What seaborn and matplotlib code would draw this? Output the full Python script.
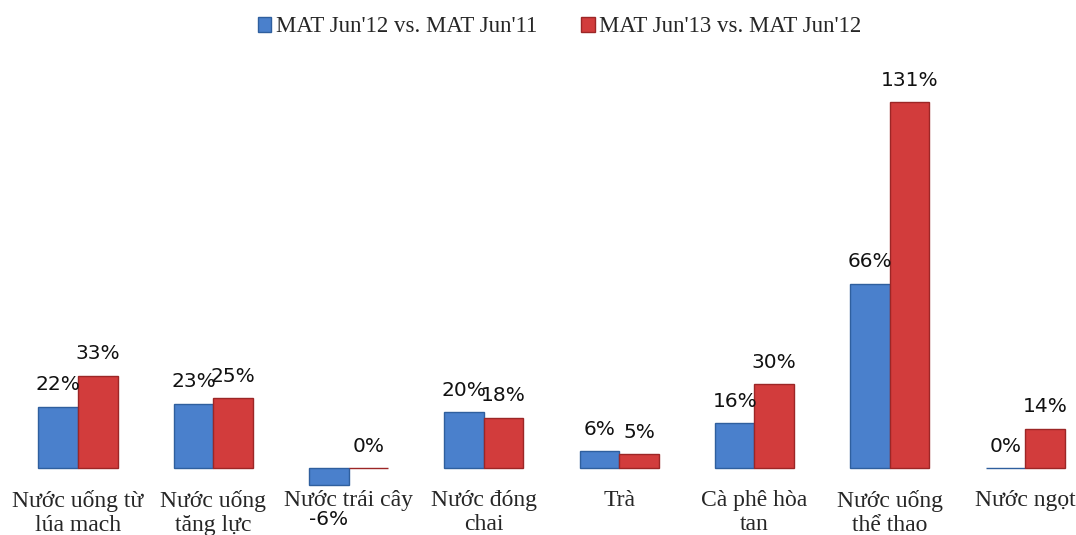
import matplotlib
matplotlib.use("Agg")
import matplotlib.pyplot as plt
from matplotlib.patches import Patch
import seaborn as sns
import pandas as pd

## chart data
categories = ["Nước uống từ\nlúa mach", "Nước uống\ntăng lực", "Nước trái cây",
              "Nước đóng\nchai", "Trà", "Cà phê hòa\ntan", "Nước uống\nthể thao", "Nước ngọt"]
series_names = ["MAT Jun'12 vs. MAT Jun'11", "MAT Jun'13 vs. MAT Jun'12"]
growth_12_vs_11 = [22, 23, -6, 20, 6, 16, 66, 0]
growth_13_vs_12 = [33, 25, 0, 18, 5, 30, 131, 14]

BLUE = "#4a80cc"
RED = "#d23c3c"

def build_frame():
    rows = []
    for cat, a, b in zip(categories, growth_12_vs_11, growth_13_vs_12):
        rows.append({"cat": cat, "series": series_names[0], "value": a})
        rows.append({"cat": cat, "series": series_names[1], "value": b})
    return pd.DataFrame(rows)

def main():
    sns.set_style("white")
    my_df = build_frame()

    my_figure = plt.figure(figsize=(10.76, 5.35), dpi=100)
    my_axes = my_figure.add_axes([0, 0.084, 1, 0.916])

    sns.barplot(data=my_df, x="cat", y="value", hue="series", hue_order=series_names,
                palette=[BLUE, RED], width=0.585, ax=my_axes, legend=False,
                saturation=1)

    # darker edges for a bit of bevel look
    edge_cols = ["#2f5f9e", "#9c2626"]
    for container, ec, vals in zip(my_axes.containers, edge_cols,
                                   [growth_12_vs_11, growth_13_vs_12]):
        for bar in container:
            bar.set_edgecolor(ec)
            bar.set_linewidth(1.0)
        texts = my_axes.bar_label(container, labels=[f"{v}%" for v in vals], padding=9,
                                  fontsize=14.5, family="DejaVu Sans", color="#111111")
        # negative labels sit a little lower in the original
        for t, v in zip(texts, vals):
            if v < 0:
                t.xyann = (0, -18)

    my_axes.set_xlim(-0.576, 7.376)
    my_axes.set_ylim(-7.9, 167.7)
    my_axes.set_xlabel("")
    my_axes.set_ylabel("")
    my_axes.set_yticks([])
    my_axes.tick_params(axis="x", length=0, pad=0)
    for lbl in my_axes.get_xticklabels():
        lbl.set_fontfamily("Liberation Serif")
        lbl.set_fontsize(17)
        lbl.set_linespacing(1.2)
    sns.despine(ax=my_axes, left=True, bottom=True)
    my_axes.patch.set_alpha(0)

    handles = [Patch(facecolor=BLUE, edgecolor="#2f5f9e"), Patch(facecolor=RED, edgecolor="#9c2626")]
    my_figure.legend(handles, series_names, loc="upper center", bbox_to_anchor=(0.52, 1.008),
                     ncol=2, frameon=False, handlelength=0.6, handleheight=0.6,
                     handletextpad=0.2, columnspacing=1.9,
                     prop={"family": "Liberation Serif", "size": 16.5})

    my_figure.savefig("out.png", dpi=100)
    return

if __name__ == '__main__':
    main()
